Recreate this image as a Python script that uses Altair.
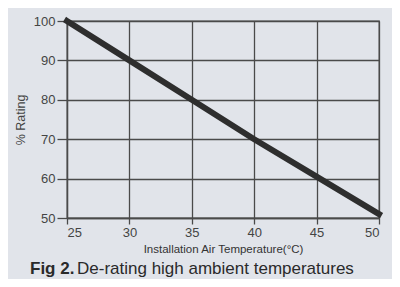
import altair as alt
import pandas as pd

temps = [25, 30, 35, 40, 45, 50]
rating = [100, 90, 80, 70, 60.5, 51]

df = pd.DataFrame({"temp": temps, "rating": rating})
cap = pd.DataFrame({"a": ["Fig 2."], "b": ["De-rating high ambient temperatures"]})

FONT = "Liberation Sans"

base = alt.Chart(df)

line = base.mark_line(color="#2e2e2e", strokeWidth=6, strokeCap="square").encode(
    x=alt.X("temp:Q", scale=alt.Scale(domain=[25, 50], nice=False),
            axis=alt.Axis(values=[25, 30, 35, 40, 45, 50], title="Installation Air Temperature(°C)",
                          titleFontSize=11.5, titleFont=FONT, titleFontWeight="normal", titleColor="#333",
                          titlePadding=4, labelFontSize=13, labelFont=FONT, labelColor="#444",
                          tickSize=6, labelPadding=2)),
    y=alt.Y("rating:Q", scale=alt.Scale(domain=[50, 100], nice=False),
            axis=alt.Axis(values=[50, 60, 70, 80, 90, 100], title="% Rating",
                          titleFontSize=12.5, titleFont=FONT, titleFontWeight="normal", titleColor="#444",
                          titlePadding=6, labelFontSize=13, labelFont=FONT, labelColor="#444",
                          tickSize=10, labelPadding=2)),
)

t1 = alt.Chart(cap).mark_text(font=FONT, fontSize=17, fontWeight="bold", align="left",
                              baseline="alphabetic", color="#2a2a2a").encode(
    x=alt.value(-37), y=alt.value(253), text="a:N")
t2 = alt.Chart(cap).mark_text(font=FONT, fontSize=17, align="left",
                              baseline="alphabetic", color="#2a2a2a").encode(
    x=alt.value(10), y=alt.value(253), text="b:N")

chart = alt.layer(line, t1, t2).properties(
    width=312, height=197,
    autosize=alt.AutoSizeParams(type="none"),
    padding={"left": 59, "top": 13, "right": 13, "bottom": 61},
    background="#e1e4ea",
).configure_axis(
    gridColor="#4a4a4a", gridWidth=1.3, gridOpacity=1,
    domainColor="#4a4a4a", domainWidth=1.3,
    tickColor="#4a4a4a", tickWidth=1.3,
).configure_view(stroke="#4a4a4a", strokeWidth=1.3)

chart.save("out.html", embed_options={"renderer": "svg", "actions": False})
